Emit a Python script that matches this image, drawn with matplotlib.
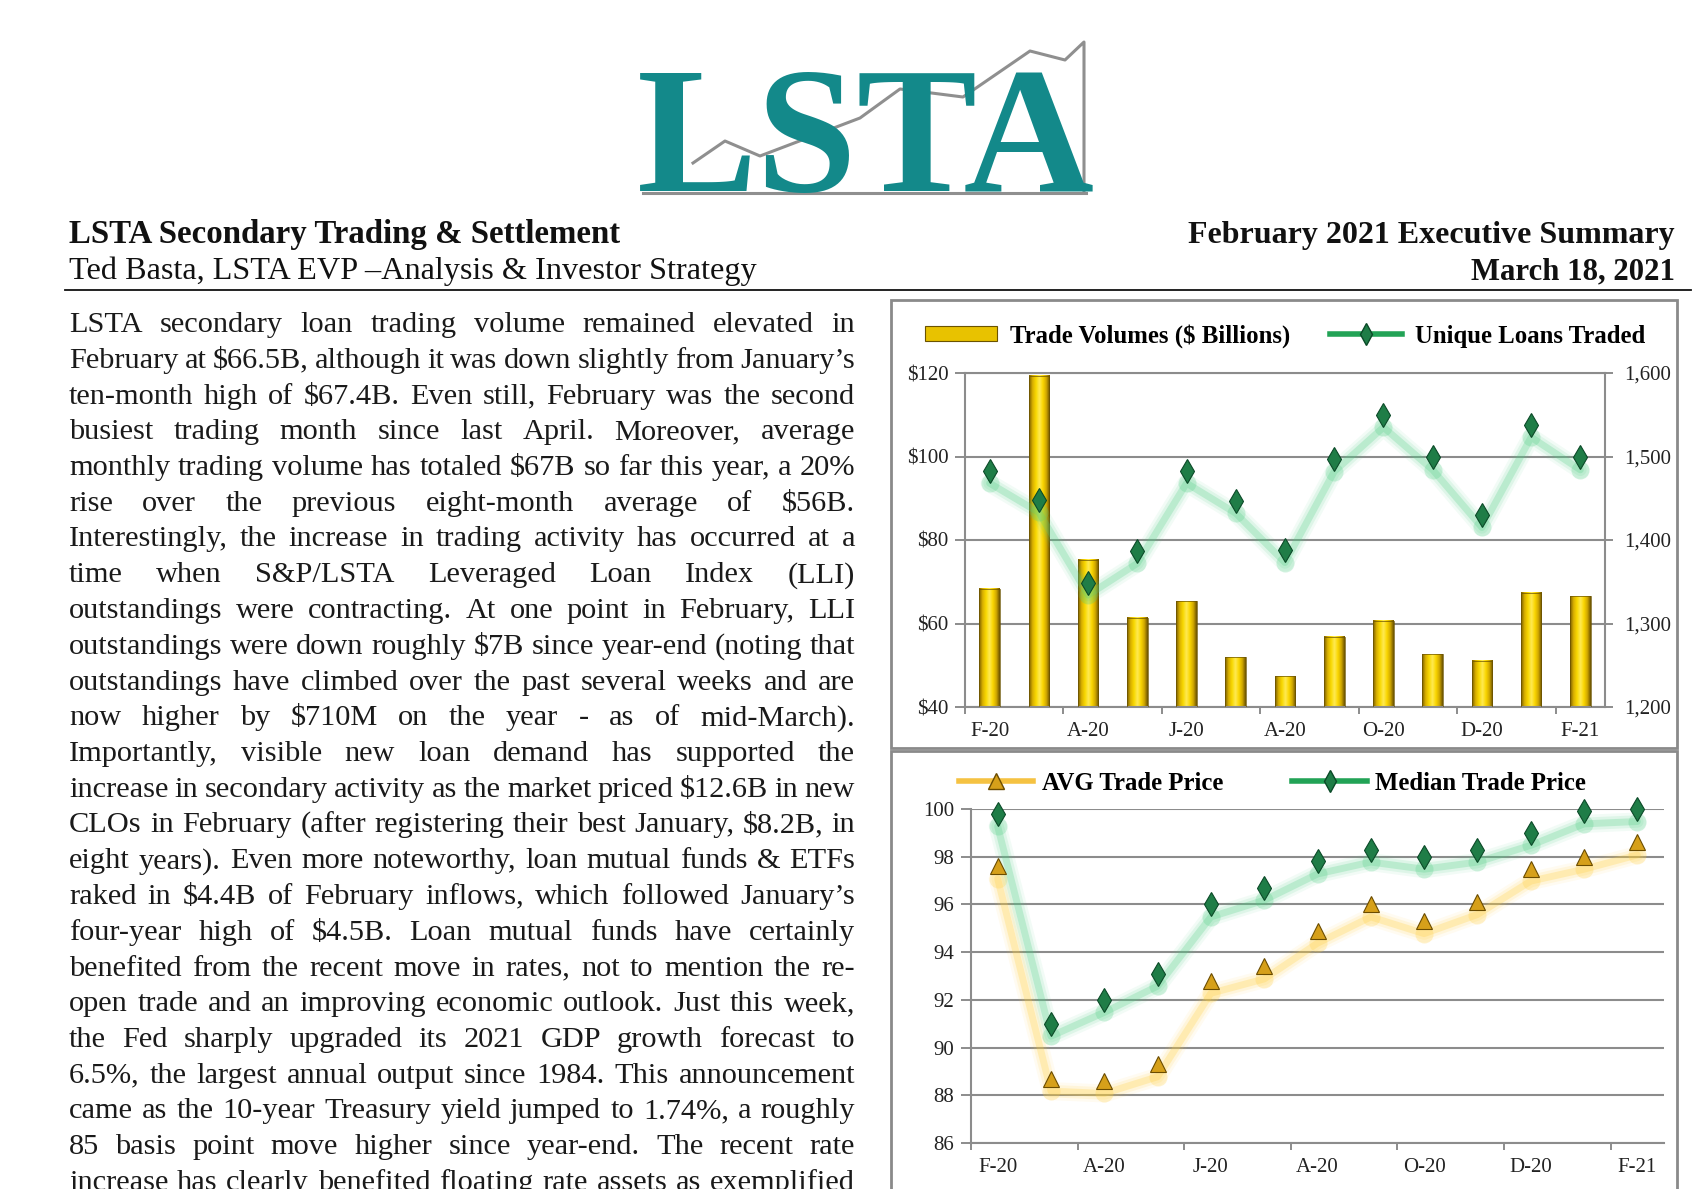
import numpy as np
import matplotlib
matplotlib.use('Agg')
import matplotlib.pyplot as plt
import matplotlib.transforms as mtransforms
from matplotlib.colors import LinearSegmentedColormap
from matplotlib.font_manager import FontProperties
from matplotlib.lines import Line2D
from matplotlib.patches import Rectangle

# ---- data ----
months = ['F-20', 'M-20', 'A-20', 'M-20', 'J-20', 'J-20', 'A-20',
          'S-20', 'O-20', 'N-20', 'D-20', 'J-21', 'F-21']
trade_volume = [68.3, 119.4, 75.3, 61.4, 65.3, 51.9, 47.4, 56.8, 60.6, 52.6, 51.1, 67.4, 66.5]
unique_loans = [1483, 1448, 1349, 1387, 1483, 1447, 1388, 1497, 1550, 1499, 1430, 1538, 1499]
avg_price = [97.6, 88.7, 88.6, 89.3, 92.8, 93.4, 94.9, 96.0, 95.3, 96.1, 97.5, 98.0, 98.6]
median_price = [99.8, 91.0, 92.0, 93.1, 96.0, 96.7, 97.8, 98.3, 98.0, 98.3, 99.0, 99.9, 100.0]

vol_ticks = [40, 60, 80, 100, 120]
vol_labels = ['$40', '$60', '$80', '$100', '$120']
loan_ticks = [1200, 1300, 1400, 1500, 1600]
loan_labels = ['1,200', '1,300', '1,400', '1,500', '1,600']
price_ticks = [86, 88, 90, 92, 94, 96, 98, 100]

title_left = 'LSTA Secondary Trading & Settlement'
author = 'Ted Basta, LSTA EVP \u2013Analysis & Investor Strategy'
title_right = 'February 2021 Executive Summary'
date_text = 'March 18, 2021'

body_lines = [
    "LSTA secondary loan trading volume remained elevated in",
    "February at $66.5B, although it was down slightly from January\u2019s",
    "ten-month high of $67.4B.  Even still, February was the second",
    "busiest trading month since last April. Moreover, average",
    "monthly trading volume has totaled $67B so far this year, a 20%",
    "rise over the previous eight-month average of $56B.",
    "Interestingly, the increase in trading activity has occurred at a",
    "time when S&P/LSTA Leveraged Loan Index (LLI)",
    "outstandings were contracting.  At one point in February, LLI",
    "outstandings were down roughly $7B since year-end (noting that",
    "outstandings have climbed over the past several weeks and are",
    "now higher by $710M on the year - as of mid-March).",
    "Importantly, visible new loan demand has supported the",
    "increase in secondary activity as the market priced $12.6B in new",
    "CLOs in February (after registering their best January, $8.2B, in",
    "eight years).  Even more noteworthy, loan mutual funds & ETFs",
    "raked in $4.4B of February inflows, which followed January\u2019s",
    "four-year high of $4.5B.  Loan mutual funds have certainly",
    "benefited from the recent move in rates, not to mention the re-",
    "open trade and an improving economic outlook.  Just this week,",
    "the Fed sharply upgraded its 2021 GDP growth forecast to",
    "6.5%, the largest annual output since 1984.  This announcement",
    "came as the 10-year Treasury yield jumped to 1.74%, a roughly",
    "85 basis point move higher since year-end.  The recent rate",
    "increase has clearly benefited floating rate assets as exemplified",
]

# logo zig-zag (decoration, figure pixels)
logo_line_x = [693, 725, 760, 860, 900, 963, 1030, 1065, 1084, 1084]
logo_line_y = [163, 141, 156, 118, 89, 97, 51, 60, 42, 193]

W, H = 1700, 1189
SERIF = 'Liberation Serif'
GRID = '#8c8c8c'
TEAL = '#13898a'
TICK_FS = 15
LEG_FS = 17.8


def fx(x):
    return x / W


def fy(y):
    return 1 - y / H


fig = plt.figure(figsize=(W / 100, H / 100), dpi=100)
fig.canvas.draw()
r = fig.canvas.get_renderer()


def text_w(s, size, weight='normal'):
    fp = FontProperties(family=SERIF, size=size, weight=weight)
    w, _, _ = r.get_text_width_height_descent(s, fp, ismath=False)
    return w


def fit_size(s, target, weight='normal'):
    return 20 * target / text_w(s, 20, weight)


# ---- logo ----
fig.text(fx(866), fy(191), 'LSTA', family=SERIF, weight='bold', fontsize=130,
         color=TEAL, ha='center', va='baseline')
fig.add_artist(Line2D([fx(v) for v in logo_line_x], [fy(v) for v in logo_line_y],
                      color='#8f8f8f', lw=2.2, transform=fig.transFigure))
fig.add_artist(Line2D([fx(643), fx(1086)], [fy(193), fy(193)],
                      color='#8f8f8f', lw=2.2, transform=fig.transFigure))

# ---- header ----
fig.text(fx(69), fy(243), title_left, family=SERIF, weight='bold',
         fontsize=fit_size(title_left, 552, 'bold'), va='baseline', color='#111')
fig.text(fx(69), fy(279), author, family=SERIF,
         fontsize=fit_size(author, 687), va='baseline', color='#111')
fig.text(fx(1675), fy(243), title_right, family=SERIF, weight='bold',
         fontsize=fit_size(title_right, 486, 'bold'), va='baseline', ha='right', color='#111')
fig.text(fx(1675), fy(279), date_text, family=SERIF, weight='bold',
         fontsize=fit_size(date_text, 203, 'bold'), va='baseline', ha='right', color='#111')
fig.add_artist(Line2D([fx(65), fx(1691)], [fy(290), fy(290)], color='#111', lw=1.3,
                      transform=fig.transFigure))

# ---- justified body text ----
col_left, col_right = 69, 855
col_w = col_right - col_left
fs0 = 20
words = [ln.split() for ln in body_lines]
wid0 = [[text_w(w, fs0) for w in ws] for ws in words]
min_gap = 0.2 * fs0 * 100 / 72
k = min(col_w / (sum(ws) + (len(ws) - 1) * min_gap) for ws in wid0)
fs = fs0 * k
for i, ws in enumerate(words):
    widths = [text_w(w, fs) for w in ws]
    gap = (col_w - sum(widths)) / (len(ws) - 1)
    x = col_left
    y = 332 + i * 35.75
    for w, wd in zip(ws, widths):
        fig.text(fx(x), fy(y), w, family=SERIF, fontsize=fs, color='#1a1a1a',
                 va='baseline', ha='left', parse_math=False)
        x += wd + gap

# ---- chart boxes ----
fig.add_artist(Rectangle((fx(891), fy(748)), (1677 - 891) / W, (748 - 300) / H,
                         transform=fig.transFigure, fill=False, ec='#8a8a8a', lw=2))
fig.add_artist(Rectangle((fx(891), fy(1200)), (1677 - 891) / W, (1200 - 751) / H,
                         transform=fig.transFigure, fill=False, ec='#8a8a8a', lw=2))

gold_cmap = LinearSegmentedColormap.from_list(
    'gold', ['#7a5e00', '#d9b000', '#f8d800', '#ffea55', '#fad600', '#d1a800', '#6a5200'])
grad = np.linspace(0, 1, 64).reshape(1, -1)

x = np.arange(len(months))


def style_axes(ax):
    ax.set_xlim(-0.5, 12.5)
    ax.set_xticks(x[::2])
    ax.set_xticklabels(months[::2])
    ax.set_xticks(np.arange(-0.5, 12, 2), minor=True)
    ax.tick_params(axis='x', which='major', length=0, pad=11, labelsize=TICK_FS, labelcolor='#222')
    ax.tick_params(axis='x', which='minor', length=5, width=1.4, color=GRID)
    ax.tick_params(axis='y', length=7, width=1.4, color=GRID, labelsize=TICK_FS,
                   labelcolor='#222', pad=5)
    for lab in ax.get_xticklabels() + ax.get_yticklabels():
        lab.set_family(SERIF)
    ax.yaxis.grid(True, color=GRID, lw=1.5)
    ax.set_axisbelow(True)
    for s in ax.spines.values():
        s.set_color(GRID)
        s.set_linewidth(1.5)


def shadow_line(ax, xs, ys, color):
    off = mtransforms.offset_copy(ax.transData, fig=fig, x=0, y=-9, units='points')
    for lw, a in [(13, 0.07), (9, 0.12), (5, 0.25)]:
        ax.plot(xs, ys, color=color, lw=lw, alpha=a, transform=off,
                solid_capstyle='round', solid_joinstyle='round', zorder=3)
    ax.plot(xs, ys, 'o', ms=13, color=color, alpha=0.25, mew=0, transform=off, zorder=3)


# ---- top chart: volumes & unique loans ----
ax = fig.add_axes([fx(965), fy(707), (1605 - 965) / W, (707 - 373) / H])
bars = ax.bar(x, trade_volume, width=0.42, color='none', edgecolor='#6b5300', lw=0.5, zorder=3)
for b in bars:
    x0 = b.get_x()
    ax.imshow(grad, extent=(x0, x0 + b.get_width(), vol_ticks[0], b.get_height()),
              cmap=gold_cmap, aspect='auto', clip_path=b, zorder=2, interpolation='bilinear')
style_axes(ax)
ax.set_ylim(40, 120)
ax.set_yticks(vol_ticks)
ax.set_yticklabels(vol_labels, family=SERIF)
ax.spines['right'].set_visible(False)

ax2 = ax.twinx()
ax2.set_ylim(1200, 1600)
ax2.set_yticks(loan_ticks)
ax2.set_yticklabels(loan_labels, family=SERIF)
ax2.tick_params(axis='y', length=6, width=1.4, color=GRID, labelsize=TICK_FS,
                labelcolor='#222', pad=8)
for s in ax2.spines.values():
    s.set_visible(False)
ax2.spines['right'].set_visible(True)
ax2.spines['right'].set_color(GRID)
ax2.spines['right'].set_linewidth(1.5)
shadow_line(ax2, x, unique_loans, '#4fcf84')
ax2.plot(x, unique_loans, ls='none', marker='d', ms=12, mfc='#1f7d47', mec='#0b4a28',
         mew=0.8, zorder=5)

top_handles = [Rectangle((0, 0), 1, 1, fc='#e8c200', ec='#6b5300', lw=0.8),
               Line2D([], [], color='#22a356', lw=4, marker='d', ms=11,
                      mfc='#1f7d47', mec='#0b4a28')]
fig.legend(top_handles, ['Trade Volumes ($ Billions)', 'Unique Loans Traded'],
           loc='center left', bbox_to_anchor=(fx(925), fy(336)), ncol=2, frameon=False,
           prop=FontProperties(family=SERIF, weight='bold', size=LEG_FS),
           handlelength=2.9, handleheight=0.55, handletextpad=0.55, columnspacing=1.6,
           borderpad=0, borderaxespad=0)

# ---- bottom chart: trade prices ----
bx = fig.add_axes([fx(971), fy(1143), (1664 - 971) / W, (1143 - 809) / H])
style_axes(bx)
bx.set_ylim(86, 100)
bx.set_yticks(price_ticks)
bx.spines['right'].set_visible(False)
bx.spines['top'].set_visible(False)
shadow_line(bx, x, avg_price, '#ffcf3a')
shadow_line(bx, x, median_price, '#4fcf84')
bx.plot(x, avg_price, ls='none', marker='^', ms=11, mfc='#d6a01a', mec='#6b4c00',
        mew=0.8, zorder=5)
bx.plot(x, median_price, ls='none', marker='d', ms=12, mfc='#1f7d47', mec='#0b4a28',
        mew=0.8, zorder=5, clip_on=False)

bot_handles = [Line2D([], [], color='#f5c242', lw=4, marker='^', ms=11,
                      mfc='#d6a01a', mec='#6b4c00'),
               Line2D([], [], color='#22a356', lw=4, marker='d', ms=11,
                      mfc='#1f7d47', mec='#0b4a28')]
fig.legend(bot_handles, ['AVG Trade Price', 'Median Trade Price'],
           loc='center left', bbox_to_anchor=(fx(959), fy(783)), ncol=2, frameon=False,
           prop=FontProperties(family=SERIF, weight='bold', size=LEG_FS),
           handlelength=3.0, handletextpad=0.35, columnspacing=2.8,
           borderpad=0, borderaxespad=0)

fig.savefig('out.png', dpi=100, facecolor='white')
